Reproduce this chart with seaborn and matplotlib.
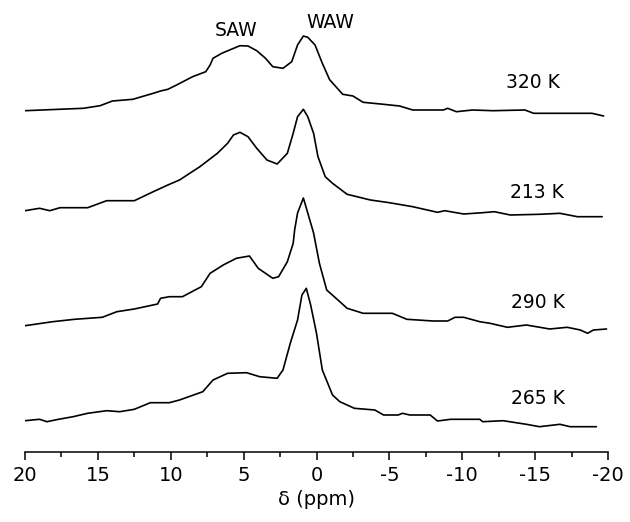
import numpy as np
import pandas as pd
import matplotlib
matplotlib.use("Agg")
import matplotlib.pyplot as plt
from matplotlib.ticker import MultipleLocator
import seaborn as sns

# chemical shift (ppm) and intensity (a.u., relative to each trace's left baseline)
shift_320 = [20.0, 16.0, 14.85, 14.0, 12.6, 11.2, 10.7, 10.2, 9.6, 8.5, 7.6, 7.3, 7.1, 6.5, 5.8, 5.25,
             4.7, 4.1, 3.5, 3.0, 2.3, 1.7, 1.3, 0.9, 0.6, 0.1, -0.4, -0.9, -1.8, -2.5, -3.2, -4.6,
             -5.7, -6.6, -8.7, -9.0, -9.6, -10.7, -12.1, -14.3, -14.9, -18.9, -19.7]
int_320 = [0, 2.4, 5.0, 9.7, 11.4, 17.4, 19.7, 21.4, 25.7, 34.0, 39.0, 45.7, 52.4, 57.4, 61.7, 65.0,
           64.7, 60.0, 52.4, 44.0, 42.4, 49.0, 65.7, 74.7, 73.4, 65.7, 47.4, 31.0, 16.4, 14.7, 8.4, 6.4,
           4.7, 0.7, 0.7, 2.4, -1.0, 0.7, 0, 0.7, -2.6, -2.6, -5.3]

shift_213 = [20.0, 19.0, 18.3, 17.6, 15.7, 14.4, 12.5, 11.2, 10.2, 9.4, 8.0, 6.8, 6.1, 5.7, 5.25, 4.7,
             4.1, 3.4, 2.7, 2.0, 1.6, 1.3, 0.9, 0.6, 0.2, -0.1, -0.6, -1.1, -2.1, -3.7, -5.0, -6.6,
             -8.3, -8.8, -10.1, -11.4, -12.2, -13.3, -15.3, -16.7, -17.9, -19.6]
int_213 = [0, 2.4, 0, 3.0, 3.0, 10.0, 10.0, 19.0, 25.7, 30.7, 44.0, 57.4, 67.4, 75.7, 78.4, 74.0,
           62.4, 50.7, 46.7, 57.4, 77.4, 94.0, 101.4, 94.0, 77.4, 54.0, 34.0, 27.4, 16.4, 10.7, 8.0, 4.0,
           -1.6, 0, -3.3, -2.0, -1.0, -4.3, -3.6, -2.6, -6.0, -6.0]

shift_290 = [20.0, 18.1, 16.6, 14.7, 13.7, 12.5, 10.9, 10.7, 10.1, 9.2, 7.9, 7.3, 6.4, 5.5, 4.6, 4.0,
             3.0, 2.6, 2.0, 1.6, 1.5, 1.3, 0.9, 0.6, 0.2, -0.2, -0.7, -1.6, -2.1, -3.2, -5.2, -6.2,
             -8.0, -9.0, -9.5, -10.1, -11.2, -11.9, -13.1, -14.4, -16.0, -17.2, -18.1, -18.6, -19.0, -19.9]
int_290 = [0, 4.0, 6.4, 8.4, 14.0, 16.7, 21.7, 27.4, 29.0, 29.0, 39.0, 52.4, 60.7, 67.4, 69.7, 57.4,
           47.4, 49.0, 64.0, 82.4, 95.7, 112.7, 127.7, 112.7, 92.7, 62.4, 35.7, 24.0, 17.4, 12.4, 12.4, 6.4,
           4.7, 4.7, 8.4, 8.4, 4.0, 2.4, -1.6, 0.7, -3.3, -1.6, -4.3, -7.6, -4.3, -3.3]

shift_265 = [20.0, 19.0, 18.5, 17.7, 16.7, 15.7, 14.4, 13.5, 12.5, 11.4, 10.1, 9.4, 7.8, 7.1, 6.1, 4.8,
             3.9, 2.7, 2.3, 1.8, 1.3, 1.0, 0.7, 0.4, 0.0, -0.4, -1.1, -1.6, -2.6, -4.0, -4.6, -5.6,
             -5.9, -6.4, -7.8, -8.3, -9.2, -11.2, -11.4, -12.8, -14.4, -15.3, -16.7, -17.4, -19.2]
int_265 = [0, 1.4, -1.0, 1.4, 4.0, 7.4, 10.0, 9.0, 11.4, 18.0, 18.0, 20.7, 29.0, 40.7, 47.4, 48.0,
           44.0, 42.4, 50.7, 77.4, 100.7, 125.7, 132.4, 115.7, 87.4, 50.7, 25.7, 19.0, 12.4, 10.7, 5.7, 5.7,
           7.4, 5.7, 5.7, -0.3, 1.4, 1.4, -1.0, 0, -3.6, -6.0, -3.6, -6.0, -6.0]

labels = ["320 K", "213 K", "290 K", "265 K"]
shifts = [shift_320, shift_213, shift_290, shift_265]
intensities = [int_320, int_213, int_290, int_265]

# vertical stacking of the traces
offsets = [341.3, 241.3, 126.3, 31.3]
label_pos = [(-14.85, 369), (-15.1, 259), (-15.2, 150), (-15.2, 54)]

sns.set_style("ticks")
plt.rcParams["font.family"] = ["DejaVu Sans"]
plt.rcParams["text.color"] = "black"
plt.rcParams["axes.labelcolor"] = "black"
plt.rcParams["xtick.color"] = "black"
plt.rcParams["axes.edgecolor"] = "black"

fig = plt.figure(figsize=(6.3, 5.22), dpi=100)
ax = fig.add_axes([25 / 630, 70 / 522, 583 / 630, 452 / 522])

for name, x, y, off, pos in zip(labels, shifts, intensities, offsets, label_pos):
    df = pd.DataFrame({"shift": x, "intensity": np.array(y) + off})
    sns.lineplot(data=df, x="shift", y="intensity", ax=ax, color="black",
                 linewidth=1.2, sort=False, estimator=None)
    ax.text(pos[0], pos[1], name, fontsize=13.5, ha="center", va="center")

ax.text(5.5, 422, "SAW", fontsize=13.5, ha="center", va="center")
ax.text(-0.95, 429, "WAW", fontsize=13.5, ha="center", va="center")

ax.set_xlim(20, -20)
ax.set_ylim(0, 452)
ax.xaxis.set_major_locator(MultipleLocator(5))
ax.xaxis.set_minor_locator(MultipleLocator(2.5))
ax.tick_params(axis="x", which="major", direction="out", length=6, width=1.1,
               labelsize=14, pad=4, colors="black")
ax.tick_params(axis="x", which="minor", direction="out", length=3.5, width=1.1, colors="black")
ax.set_xticks([20, 15, 10, 5, 0, -5, -10, -15, -20])
ax.set_xticklabels(["20", "15", "10", "5", "0", "-5", "-10", "-15", "-20"])
ax.set_yticks([])
ax.set_xlabel("δ (ppm)", fontsize=14, labelpad=4, color="black")
ax.set_ylabel("")
for side in ["top", "right", "left"]:
    ax.spines[side].set_visible(False)
ax.spines["bottom"].set_linewidth(1.1)
ax.spines["bottom"].set_color("black")

fig.savefig("out.png", dpi=100)
